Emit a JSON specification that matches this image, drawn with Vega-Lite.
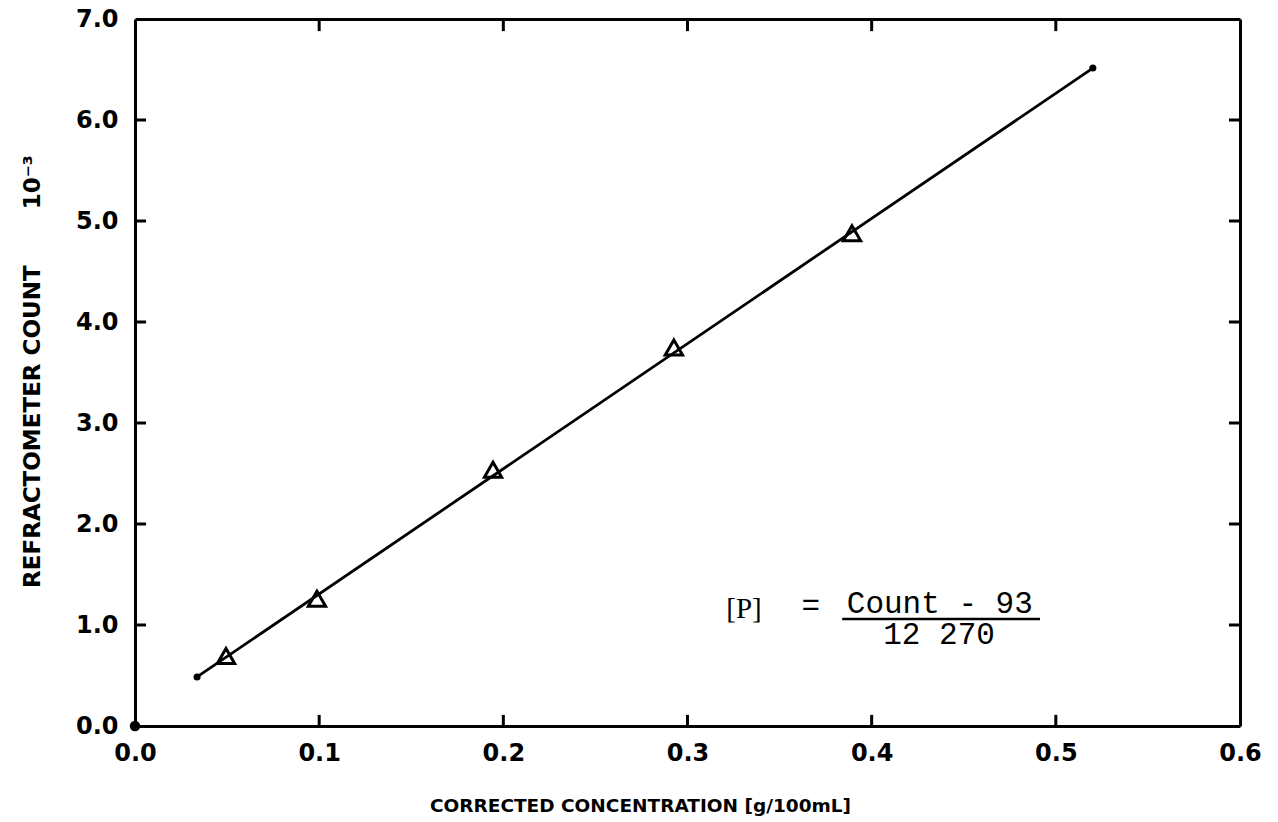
{
  "$schema": "https://vega.github.io/schema/vega-lite/v6.json",
  "autosize": "none",
  "padding": {"left": 135, "top": 19, "right": 38, "bottom": 96},
  "width": 1105,
  "height": 707,
  "background": "white",
  "config": {"view": {"stroke": null}},
  "datasets": {
    "fit": [
      {"conc": 0.0337, "count": 0.486},
      {"conc": 0.5201, "count": 6.514}
    ],
    "pen": [
      {"conc": 0.0, "count": 0.0}
    ],
    "obs": [
      {"conc": 0.0494, "count": 0.694},
      {"conc": 0.0988, "count": 1.259},
      {"conc": 0.1944, "count": 2.538},
      {"conc": 0.2926, "count": 3.748},
      {"conc": 0.3893, "count": 4.878}
    ],
    "xticks": [{"v": 0.1}, {"v": 0.2}, {"v": 0.3}, {"v": 0.4}, {"v": 0.5}],
    "yticks": [{"v": 1}, {"v": 2}, {"v": 3}, {"v": 4}, {"v": 5}, {"v": 6}],
    "labels": [
      {"conc": 0.3307, "count": 1.16, "text": "[P]", "part": "lhs"},
      {"conc": 0.367, "count": 1.19, "text": "=", "part": "eq"},
      {"conc": 0.437, "count": 1.21, "text": "Count - 93", "part": "num"},
      {"conc": 0.4366, "count": 0.90, "text": "12 270", "part": "den"}
    ],
    "bar": [
      {"x1": 0.384, "x2": 0.4914, "count": 1.06}
    ]
  },
  "resolve": {"axis": {"x": "independent", "y": "independent"}},
  "layer": [
    {
      "data": {"name": "fit"},
      "mark": {"type": "line", "color": "black", "strokeWidth": 2.8},
      "encoding": {
        "x": {
          "field": "conc", "type": "quantitative",
          "scale": {"domain": [0, 0.6], "nice": false, "zero": false},
          "axis": {
            "orient": "bottom",
            "values": [0, 0.1, 0.2, 0.3, 0.4, 0.5, 0.6],
            "format": ".1f",
            "grid": false, "ticks": false, "tickSize": 0,
            "domainColor": "black", "domainWidth": 3,
            "labelFont": "DejaVu Sans", "labelFontWeight": "bold", "labelFontSize": 24,
            "labelColor": "black", "labelPadding": 15, "labelOverlap": false, "labelFlush": false, "labelBound": false,
            "title": "CORRECTED CONCENTRATION [g/100mL]",
            "titleFont": "DejaVu Sans", "titleFontWeight": "bold", "titleFontSize": 18.5, "titleColor": "black",
            "titleX": 505, "titleY": 79, "titleAlign": "center", "titleBaseline": "middle"
          }
        },
        "y": {
          "field": "count", "type": "quantitative",
          "scale": {"domain": [0, 7], "nice": false, "zero": false},
          "axis": {
            "orient": "left",
            "values": [0, 1, 2, 3, 4, 5, 6, 7],
            "format": ".1f",
            "grid": false, "ticks": false, "tickSize": 0,
            "domainColor": "black", "domainWidth": 3,
            "labelFont": "DejaVu Sans", "labelFontWeight": "bold", "labelFontSize": 24,
            "labelColor": "black", "labelPadding": 17, "labelOverlap": false, "labelFlush": false, "labelBound": false,
            "title": "REFRACTOMETER COUNT\u00a0\u00a0\u00a0\u00a0\u00a0\u00a0\u00a010⁻³",
            "titleFont": "DejaVu Sans", "titleFontWeight": "bold", "titleFontSize": 23, "titleColor": "black",
            "titleAngle": -90, "titleX": -103, "titleY": 352, "titleAlign": "center", "titleBaseline": "middle"
          }
        }
      }
    },
    {
      "data": {"name": "pen"},
      "mark": {"type": "point", "shape": "circle", "filled": true, "color": "black", "size": 110, "opacity": 1, "clip": false},
      "encoding": {
        "x": {
          "field": "conc", "type": "quantitative",
          "axis": {
            "orient": "top", "labels": false, "ticks": false, "grid": false, "title": null,
            "domainColor": "black", "domainWidth": 3
          }
        },
        "y": {
          "field": "count", "type": "quantitative",
          "axis": {
            "orient": "right", "labels": false, "ticks": false, "grid": false, "title": null,
            "domainColor": "black", "domainWidth": 3
          }
        }
      }
    },
    {
      "data": {"name": "xticks"},
      "mark": {"type": "rule", "color": "black", "strokeWidth": 3},
      "encoding": {
        "x": {"field": "v", "type": "quantitative", "axis": null},
        "y": {"datum": 0, "type": "quantitative", "axis": null},
        "y2": {"datum": 0.11}
      }
    },
    {
      "data": {"name": "xticks"},
      "mark": {"type": "rule", "color": "black", "strokeWidth": 3},
      "encoding": {
        "x": {"field": "v", "type": "quantitative", "axis": null},
        "y": {"datum": 7, "type": "quantitative", "axis": null},
        "y2": {"datum": 6.88}
      }
    },
    {
      "data": {"name": "yticks"},
      "mark": {"type": "rule", "color": "black", "strokeWidth": 3},
      "encoding": {
        "y": {"field": "v", "type": "quantitative", "axis": null},
        "x": {"datum": 0, "type": "quantitative", "axis": null},
        "x2": {"datum": 0.006}
      }
    },
    {
      "data": {"name": "yticks"},
      "mark": {"type": "rule", "color": "black", "strokeWidth": 3},
      "encoding": {
        "y": {"field": "v", "type": "quantitative", "axis": null},
        "x": {"datum": 0.6, "type": "quantitative", "axis": null},
        "x2": {"datum": 0.594}
      }
    },
    {
      "data": {"name": "fit"},
      "mark": {"type": "point", "shape": "circle", "filled": true, "color": "black", "size": 50, "opacity": 1},
      "encoding": {
        "x": {"field": "conc", "type": "quantitative", "axis": null},
        "y": {"field": "count", "type": "quantitative", "axis": null}
      }
    },
    {
      "data": {"name": "obs"},
      "mark": {"type": "point", "shape": "triangle-up", "filled": false, "color": "black", "strokeWidth": 3, "size": 300, "opacity": 1},
      "encoding": {
        "x": {"field": "conc", "type": "quantitative", "axis": null},
        "y": {"field": "count", "type": "quantitative", "axis": null}
      }
    },
    {
      "data": {"name": "labels"},
      "transform": [{"filter": "datum.part !== 'lhs'"}],
      "mark": {"type": "text", "font": "Liberation Mono", "fontSize": 31, "color": "black", "align": "center", "baseline": "middle"},
      "encoding": {
        "x": {"field": "conc", "type": "quantitative", "axis": null},
        "y": {"field": "count", "type": "quantitative", "axis": null},
        "text": {"field": "text"}
      }
    },
    {
      "data": {"name": "labels"},
      "transform": [{"filter": "datum.part === 'lhs'"}],
      "mark": {"type": "text", "font": "Liberation Serif", "fontSize": 29, "color": "black", "align": "center", "baseline": "middle"},
      "encoding": {
        "x": {"field": "conc", "type": "quantitative", "axis": null},
        "y": {"field": "count", "type": "quantitative", "axis": null},
        "text": {"field": "text"}
      }
    },
    {
      "data": {"name": "bar"},
      "mark": {"type": "rule", "color": "black", "strokeWidth": 2.5},
      "encoding": {
        "x": {"field": "x1", "type": "quantitative", "axis": null},
        "x2": {"field": "x2"},
        "y": {"field": "count", "type": "quantitative", "axis": null}
      }
    }
  ]
}
